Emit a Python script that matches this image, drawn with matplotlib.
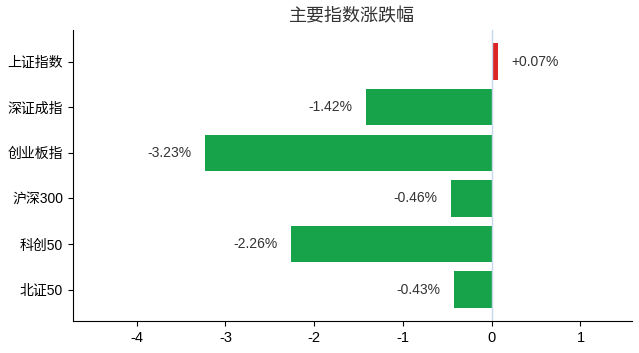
import numpy as np
import matplotlib
matplotlib.use("Agg")
import matplotlib.pyplot as plt

plt.rcParams['font.family'] = ['Liberation Sans', 'Noto Sans CJK SC', 'DejaVu Sans']
plt.rcParams['axes.unicode_minus'] = False

# --- data ---
names = ["上证指数", "深证成指", "创业板指", "沪深300", "科创50", "北证50"]
changes = [0.07, -1.42, -3.23, -0.46, -2.26, -0.43]

fig, ax = plt.subplots(figsize=(6.39, 3.53), dpi=100)
fig.subplots_adjust(left=0.114, right=0.989, top=0.915, bottom=0.09)

y = np.arange(len(names))
colors = ['#dc2626' if v > 0 else '#16a34a' for v in changes]
ax.barh(y, changes, height=0.8, color=colors)
ax.axvline(0, color='#c6d8ec', linewidth=1)

# value labels beside bar ends
for yi, v in zip(y, changes):
    txt = f"{v:+.2f}%"
    if v >= 0:
        ax.text(v + 0.15, yi, txt, ha='left', va='center', fontsize=10, color='#333333')
    else:
        ax.text(v - 0.15, yi, txt, ha='right', va='center', fontsize=10, color='#333333')

ax.set_yticks(y)
ax.set_yticklabels(names, fontsize=10)
ax.invert_yaxis()
ax.set_xlim(-4.72, 1.58)
ax.set_xticks([-4, -3, -2, -1, 0, 1])
ax.tick_params(axis='x', labelsize=10.5)
ax.spines['top'].set_visible(False)
ax.spines['right'].set_visible(False)
ax.set_title("主要指数涨跌幅", fontsize=13, color='#333333', fontweight='medium')

plt.savefig("out.png", dpi=100)
